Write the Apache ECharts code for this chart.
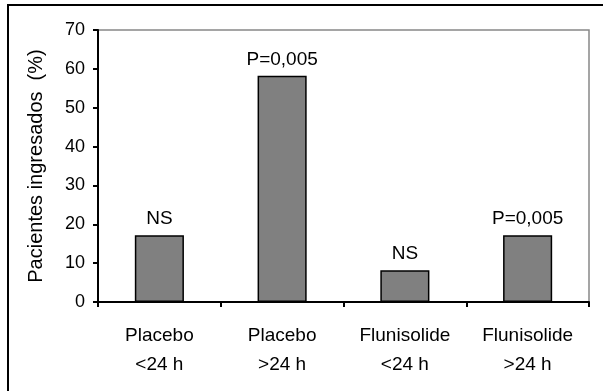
<!DOCTYPE html>
<html>
<head>
<meta charset="utf-8">
<script src="https://cdn.jsdelivr.net/npm/echarts@6/dist/echarts.min.js"></script>
<style>
  html, body { margin: 0; padding: 0; background: #fff; }
  #main { width: 603px; height: 391px; }
</style>
</head>
<body>
<div id="main"></div>
<script>
var categories = ['Placebo\n<24 h', 'Placebo\n>24 h', 'Flunisolide\n<24 h', 'Flunisolide\n>24 h'];
var values = [17.2, 58.2, 8.2, 17.2];
var annotations = ['NS', 'P=0,005', 'NS', 'P=0,005'];
var yTicks = [0, 10, 20, 30, 40, 50, 60, 70];

var font = '"Liberation Sans", Arial, sans-serif';
var myChart = echarts.init(document.getElementById('main'));

var options = {
    animation: false,
    backgroundColor: '#fff',
    // outer frame (left and top edges only are visible)
    graphic: [
        { type: 'line', shape: { x1: 8, y1: 5, x2: 8, y2: 391 }, style: { stroke: '#000', lineWidth: 2 } },
        { type: 'line', shape: { x1: 7, y1: 5, x2: 603, y2: 5 }, style: { stroke: '#000', lineWidth: 2 } }
    ],
    grid: {
        left: 98, right: 14, top: 30, bottom: 89,
        show: true, borderColor: '#888', borderWidth: 1.5, backgroundColor: '#fff'
    },
    xAxis: {
        type: 'category',
        data: categories,
        axisLine: { lineStyle: { color: '#000', width: 2 } },
        axisTick: { show: true, length: 5, lineStyle: { color: '#000', width: 2 } },
        axisLabel: {
            color: '#000', fontFamily: font, fontSize: 19,
            lineHeight: 29, margin: 19, interval: 0
        }
    },
    yAxis: {
        type: 'value',
        min: yTicks[0], max: yTicks[yTicks.length - 1], interval: 10,
        name: 'Pacientes ingresados  (%)',
        nameLocation: 'middle',
        nameGap: 52,
        nameTextStyle: { color: '#000', fontFamily: font, fontSize: 20 },
        splitLine: { show: false },
        axisLine: { show: true, lineStyle: { color: '#000', width: 2 } },
        axisTick: { show: true, length: 5, lineStyle: { color: '#000', width: 2 } },
        axisLabel: { color: '#000', fontFamily: font, fontSize: 18, margin: 13 }
    },
    series: [{
        type: 'bar',
        data: values,
        barWidth: '40%',
        itemStyle: { color: '#808080', borderColor: '#000', borderWidth: 1.5 },
        label: {
            show: true, position: 'top', distance: 7,
            color: '#000', fontFamily: font, fontSize: 19,
            formatter: function (p) { return annotations[p.dataIndex]; }
        }
    }]
};
myChart.setOption(options);
window.onresize = function () {
    myChart.resize();
};
</script>
</body>
</html>
